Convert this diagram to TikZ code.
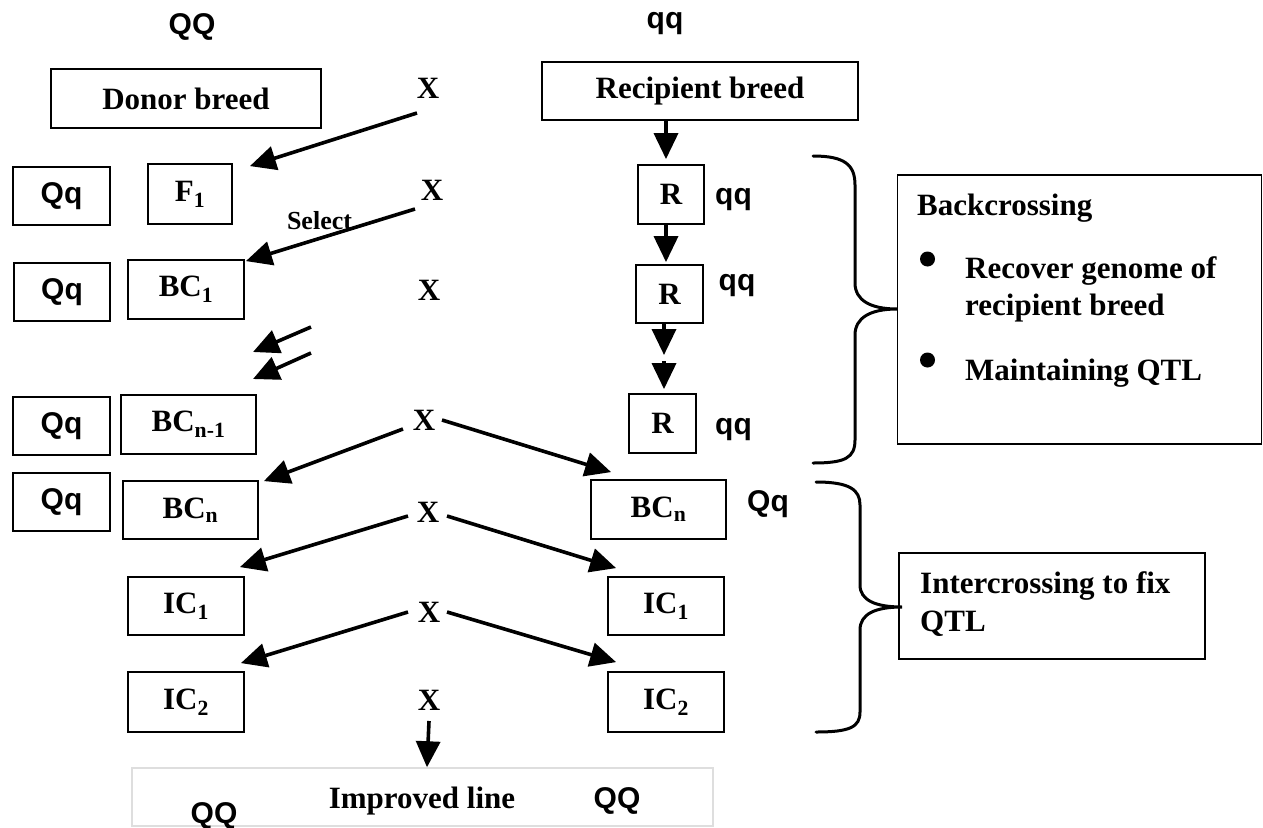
\documentclass[tikz,border=0pt]{standalone}
\usepackage{fontspec}
\setmainfont{Liberation Serif}
\newfontfamily\arialf{Liberation Sans}
\usetikzlibrary{arrows.meta}
\newcommand\myrm{\fontsize{31}{37}\selectfont\bfseries}
\newcommand\mysf{\arialf\fontsize{30}{36}\selectfont\bfseries}
\begin{document}
\begin{tikzpicture}[x=1pt,y=-1pt,
  bx/.style={draw, line width=1.8pt, rectangle, inner sep=0pt, font=\myrm},
  sbx/.style={draw, line width=1.8pt, rectangle, inner sep=0pt, font=\mysf},
  lab/.style={inner sep=0pt, font=\myrm},
  slab/.style={inner sep=0pt, font=\mysf},
  arr/.style={line width=3.6pt, -{Triangle[length=26pt,width=24pt]}},
  brace/.style={line width=3pt, line cap=round}]
\useasboundingbox (0,0) rectangle (1263,827);

% top genotype labels
\node[slab, anchor=base] (QQtop) at (192,34) {QQ};
\node[slab, anchor=base] (qqtop) at (665,28) {qq};

% parent boxes
\node[bx, minimum width=270pt, minimum height=59pt] (donor) at (186,98.5) {Donor breed};
\node[bx, minimum width=316pt, minimum height=58pt] (recip) at (700,91) {Recipient breed};

% X labels
\node[lab] (X1) at (428,88) {X};
\node[lab] (X2) at (432,190) {X};
\node[lab] (X3) at (429,290) {X};
\node[lab] (X4) at (424,420) {X};
\node[lab] (X5) at (428,512) {X};
\node[lab] (X6) at (429,612) {X};
\node[lab] (X7) at (429,700) {X};

% left genotype boxes
\node[sbx, minimum width=97pt, minimum height=58pt] (qqA) at (61.5,196) {Qq};
\node[sbx, minimum width=96pt, minimum height=58pt] (qqB) at (62,292) {Qq};
\node[sbx, minimum width=97pt, minimum height=58pt] (qqC) at (61.5,426) {Qq};
\node[sbx, minimum width=97pt, minimum height=58pt] (qqD) at (61.5,502) {Qq};

% left generation boxes
\node[bx, minimum width=84pt, minimum height=60pt] (F1) at (190,194) {F\textsubscript{1}};
\node[bx, minimum width=116pt, minimum height=59pt] (BC1) at (186,289.5) {BC\textsubscript{1}};
\node[bx, minimum width=135pt, minimum height=59pt] (BCm) at (188.5,424.5) {BC\textsubscript{n-1}};
\node[bx, minimum width=135pt, minimum height=58pt] (BCnL) at (190.5,510) {BC\textsubscript{n}};
\node[bx, minimum width=116pt, minimum height=58pt] (IC1L) at (186,606) {IC\textsubscript{1}};
\node[bx, minimum width=116pt, minimum height=60pt] (IC2L) at (186,702) {IC\textsubscript{2}};

% right column
\node[bx, minimum width=66pt, minimum height=59pt] (R1) at (671,194.5) {R};
\node[bx, minimum width=67pt, minimum height=58pt] (R2) at (669.5,294) {R};
\node[bx, minimum width=67pt, minimum height=59pt] (R3) at (662.5,423.5) {R};
\node[bx, minimum width=135pt, minimum height=59pt] (BCnR) at (658.5,509.5) {BC\textsubscript{n}};
\node[bx, minimum width=116pt, minimum height=58pt] (IC1R) at (666,606) {IC\textsubscript{1}};
\node[bx, minimum width=116pt, minimum height=60pt] (IC2R) at (666,702) {IC\textsubscript{2}};

\node[slab] (g1) at (733.5,199.5) {qq};
\node[slab] (g2) at (737,285.5) {qq};
\node[slab] (g3) at (733.5,430) {qq};
\node[slab] (g4) at (768,504) {Qq};

% select label
\node[inner sep=0pt, font=\fontsize{26}{30}\selectfont\bfseries, anchor=base] (sel) at (319.5,229) {Select};

% improved line
\node[draw=black!13, line width=1.5pt, rectangle, inner sep=0pt, minimum width=581pt, minimum height=58pt] (imp) at (422.5,797) {};
\node[lab, anchor=base] (impT) at (422,808) {Improved line};
\node[slab, anchor=base] (impQ1) at (214,823) {QQ};
\node[slab, anchor=base] (impQ2) at (617,808) {QQ};

% diagonal arrows (left)
\draw[arr] ([shift={(-11,25)}]X1.center) -- ([shift={(17,3)}]F1.north east);
\draw[arr] ([shift={(-17,19)}]X2.center) -- ([shift={(1,2)}]BC1.north east);
\coordinate (a3s) at (311,327); \coordinate (a3e) at (253,352);
\coordinate (a4s) at (311,353); \coordinate (a4e) at (253,379);
\draw[arr] (a3s) -- (a3e);
\draw[arr] (a4s) -- (a4e);
\draw[arr] ([shift={(-21,9)}]X4.center) -- ([shift={(5,1)}]BCnL.north east);
\draw[arr] ([shift={(-20,4)}]X5.center) -- ([shift={(-5,-9)}]IC1L.north east);
\draw[arr] ([shift={(-21,0)}]X6.center) -- ([shift={(-4,-8)}]IC2L.north east);
% diagonal arrows (right)
\draw[arr] ([shift={(18,0)}]X4.center) -- ([shift={(21,-7)}]BCnR.north west);
\draw[arr] ([shift={(19,4)}]X5.center) -- ([shift={(9,-8)}]IC1R.north west);
\draw[arr] ([shift={(18,0)}]X6.center) -- ([shift={(9,-9)}]IC2R.north west);
% down to improved
\draw[arr] ([shift={(0,21)}]X7.center) -- ([shift={(4.5,0)}]imp.north);

% vertical arrows right column
\draw[arr] ([shift={(-34,0)}]recip.south) -- ([shift={(-5,-5)}]R1.north);
\draw[arr] ([shift={(-5,0)}]R1.south) -- ([shift={(-3.5,-2)}]R2.north);
\coordinate (m1) at (664,355);
\coordinate (m2) at (664,361);
\draw[arr] ([shift={(-5.5,0)}]R2.south) -- (m1);
\draw[arr] (m2) -- ([shift={(1.5,-4)}]R3.north);

% braces
\draw[brace] (813,156) .. controls (845,156) and (855,165) .. (855,185) -- (855,283)
  .. controls (855,300) and (870,309) .. (897,309)
  .. controls (870,309) and (855,318) .. (855,335) -- (855,440)
  .. controls (855,458) and (845,463) .. (813,463);
\draw[brace] (816,482) .. controls (850,482) and (860,490) .. (860,505) -- (860,585)
  .. controls (860,600) and (875,607) .. (902,607)
  .. controls (875,607) and (860,614) .. (860,630) -- (860,712)
  .. controls (860,727) and (850,732) .. (816,732);

% explanation boxes
\node[draw, line width=1.8pt, rectangle, inner sep=0pt, minimum width=364pt, minimum height=269pt] (back) at (1079.5,309.5) {};
\node[lab, anchor=base west] (backT) at (917,215) {Backcrossing};
\fill (927.5,259) circle (7.5pt);
\fill (927.5,360) circle (7.5pt);
\node[lab, anchor=base west] (b1a) at (965,278) {Recover genome of};
\node[lab, anchor=base west] (b1b) at (965,315) {recipient breed};
\node[lab, anchor=base west] (b2) at (965,380) {Maintaining QTL};

\node[draw, line width=1.8pt, rectangle, inner sep=0pt, minimum width=306pt, minimum height=106pt] (inter) at (1052,606) {};
\node[lab, anchor=base west] (i1) at (920,593) {Intercrossing to fix};
\node[lab, anchor=base west] (i2) at (920,631) {QTL};
\end{tikzpicture}
\end{document}
